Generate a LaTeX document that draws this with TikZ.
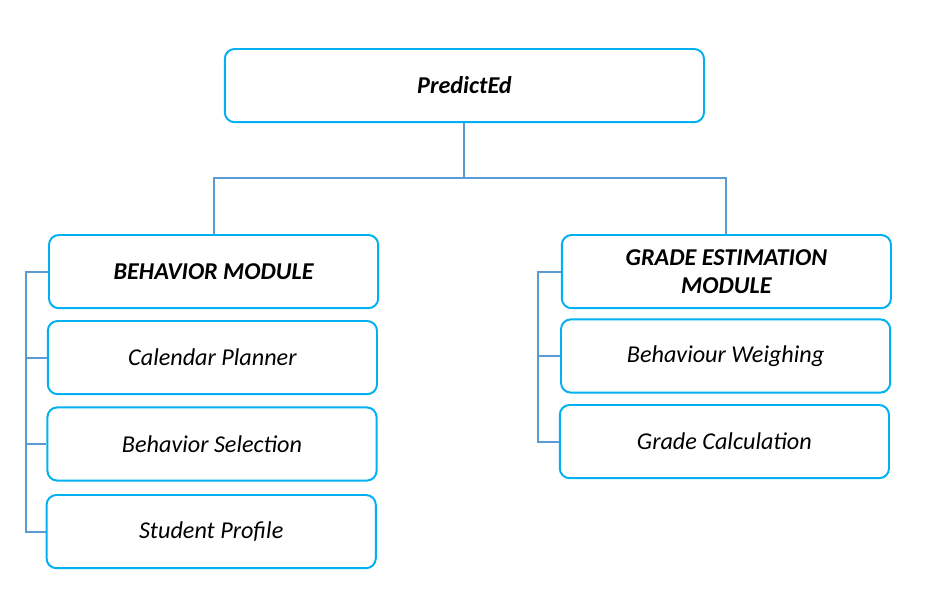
\documentclass[tikz,border=0pt]{standalone}
\usepackage{fontspec}
\setmainfont{Carlito}
\usepackage{tikz}
\usetikzlibrary{positioning}

\definecolor{boxcyan}{HTML}{00B0F0}
\definecolor{linkblue}{HTML}{5B9BD5}

\begin{document}
\begin{tikzpicture}[text centered,font=\fontsize{17.2}{20.5}\selectfont\itshape]
            \tikzstyle{box}=[draw=boxcyan,line width=1.4pt,rounded corners=7pt,minimum width=8.23cm,minimum height=1.83cm,align=center]
            \tikzstyle{link}=[draw=linkblue,line width=1.3pt]
            \useasboundingbox (0,0) rectangle (23.525,-15.25);

            \node[box,minimum width=11.98cm] (top) at (11.61,-2.14) {\textbf{PredictEd}};

            % behavior side
            \node[box] (bm) at (5.34,-6.79) {\textbf{BEHAVIOR MODULE}};
            \node[box] (cp) at (5.31,-8.94) {Calendar Planner};
            \node[box] (bs) at (5.30,-11.10) {Behavior Selection};
            \node[box] (sp) at (5.28,-13.29) {Student Profile};

            % grade side
            \node[box] (ge) at (18.16,-6.79) {\textbf{GRADE ESTIMATION}\\\textbf{MODULE}};
            \node[box] (bw) at (18.14,-8.90) {Behaviour Weighing};
            \node[box] (gc) at (18.11,-11.04) {Grade Calculation};

            \coordinate (bus) at (11.61,-4.45);
            \coordinate (lb) at (0.65,-6.79);
            \coordinate (rb) at (13.45,-6.79);

            \draw[link] (top.south) -- (bus);
            \draw[link] (bm.north) |- (bus) -| (ge.north);

            \draw[link] (bm.west) -- (lb) |- (sp.west);
            \draw[link] (lb |- cp) -- (cp.west);
            \draw[link] (lb |- bs) -- (bs.west);

            \draw[link] (ge.west) -- (rb) |- (gc.west);
            \draw[link] (rb |- bw) -- (bw.west);
        \end{tikzpicture}
\end{document}
